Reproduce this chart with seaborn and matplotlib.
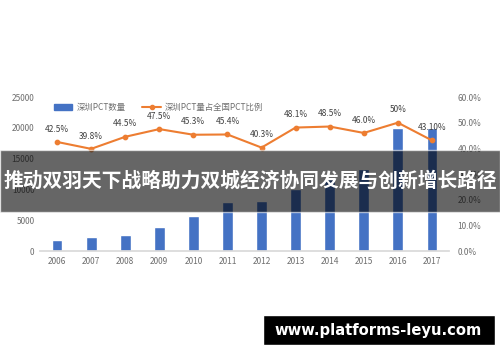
import matplotlib
matplotlib.use("Agg")
import matplotlib.pyplot as plt
import seaborn as sns
import pandas as pd
from matplotlib.patches import Patch, Rectangle
from matplotlib.lines import Line2D

years = ["2006", "2007", "2008", "2009", "2010", "2011", "2012",
         "2013", "2014", "2015", "2016", "2017"]
pct_counts = [1750, 2250, 2650, 3850, 5650, 8000, 8050,
              10050, 11650, 13300, 19950, 19950]
pct_share = [42.5, 39.8, 44.5, 47.5, 45.3, 45.4, 40.3,
             48.1, 48.5, 46.0, 50.0, 43.1]
share_labels = ["42.5%", "39.8%", "44.5%", "47.5%", "45.3%", "45.4%", "40.3%",
                "48.1%", "48.5%", "46.0%", "50%", "43.10%"]
left_ticks = [0, 5000, 10000, 15000, 20000, 25000]
right_ticks = [0, 10, 20, 30, 40, 50, 60]
bar_name = "深圳PCT数量"
line_name = "深圳PCT量占全国PCT比例"
banner_text = "推动双羽天下战略助力双城经济协同发展与创新增长路径"
watermark = "www.platforms-leyu.com"

sns.set_theme(style="white")
plt.rcParams['font.family'] = ['Noto Sans CJK SC', 'DejaVu Sans']

BLUE = "#4472C4"
ORANGE = "#ED7D31"
GRAY = "#6E6E6E"

df = pd.DataFrame({"year": years, "count": pct_counts, "share": pct_share})

fig = plt.figure(figsize=(5, 3.62), dpi=100)
ax = fig.add_axes([0.08, 0.3066, 0.818, 0.4254])
sns.barplot(data=df, x="year", y="count", color=BLUE, width=0.32,
            saturation=1, ax=ax)
ax.set_ylim(0, 25000)
ax.set_xlim(-0.5, len(years) - 0.5)
ax.set_yticks(left_ticks)
ax.set_yticklabels([str(t) for t in left_ticks])
ax.set_xlabel("")
ax.set_ylabel("")
for s in ["top", "right", "left"]:
    ax.spines[s].set_visible(False)
ax.spines["bottom"].set_color("#D9D9D9")
ax.tick_params(axis="both", labelsize=6, colors=GRAY, length=0, pad=4)

ax2 = ax.twinx()
sns.pointplot(data=df, x="year", y="share", color=ORANGE, markers="o",
              markersize=3, linewidth=1.5, ax=ax2)
ax2.set_ylim(0, 60)
ax2.set_xlim(-0.5, len(years) - 0.5)
ax2.set_yticks(right_ticks)
ax2.set_yticklabels([f"{t:.1f}%" for t in right_ticks])
ax2.set_ylabel("")
for s in ["top", "right", "left", "bottom"]:
    ax2.spines[s].set_visible(False)
ax2.tick_params(axis="y", labelsize=6, colors=GRAY, length=0, pad=6)
for i, (v, lab) in enumerate(zip(pct_share, share_labels)):
    ax2.annotate(lab, (i, v), xytext=(0, 6), textcoords="offset points",
                 ha="center", va="bottom", fontsize=6, color="#404040")

handles = [Patch(color=BLUE),
           Line2D([0], [0], color=ORANGE, marker="o", markersize=3, linewidth=1.5)]
ax.legend(handles, [bar_name, line_name], ncol=2, frameon=False,
          loc="center", bbox_to_anchor=(0.29, 0.935), fontsize=6,
          labelcolor=GRAY, handlelength=2.2, columnspacing=2, handletextpad=0.5)

# overlay banner
fig.patches.append(Rectangle((0, 0.4144), 1, 0.171, transform=fig.transFigure,
                             facecolor="black", alpha=0.6, zorder=10))
fig.text(0.5, 0.5, banner_text, ha="center", va="center", color="white",
         fontsize=14.2, fontweight="bold", zorder=11)

# watermark
fig.patches.append(Rectangle((0.526, 0.047), 0.464, 0.083, transform=fig.transFigure,
                             facecolor="black", zorder=10))
fig.text(0.756, 0.088, watermark, ha="center", va="center", color="white",
         fontsize=10.6, fontweight="bold", family=["DejaVu Sans"], zorder=11)

fig.savefig("out.png", dpi=100)
